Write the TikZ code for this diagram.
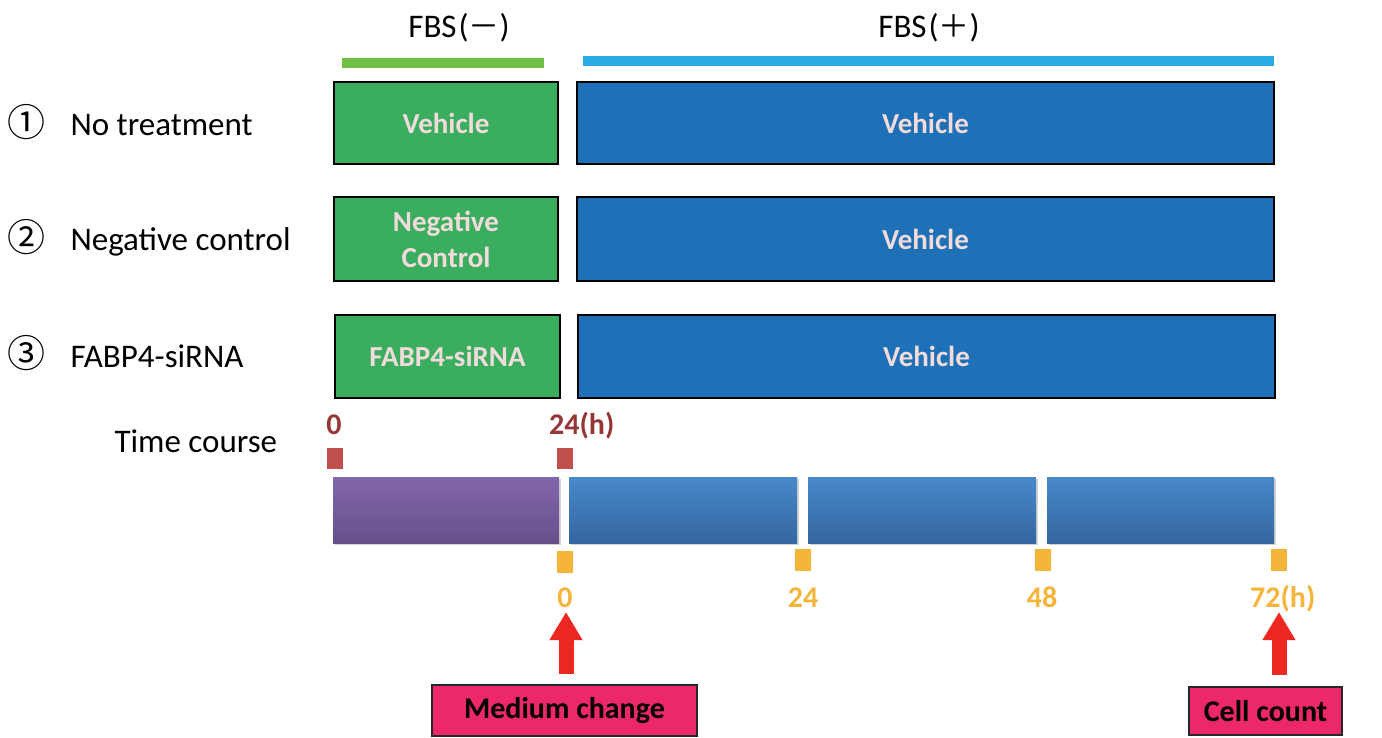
\documentclass[tikz,border=0pt]{standalone}
\usepackage{fontspec}
\setmainfont{Carlito}
\newfontfamily\cjk{Noto Sans CJK JP}
\usetikzlibrary{arrows.meta,shadows}
\definecolor{gbox}{RGB}{58,173,94}
\definecolor{bbox}{RGB}{30,112,183}
\definecolor{boxtxt}{RGB}{242,220,219}
\definecolor{gbar}{RGB}{112,190,68}
\definecolor{lbar}{RGB}{41,171,226}
\definecolor{browntxt}{RGB}{149,55,53}
\definecolor{brownsq}{RGB}{192,80,77}
\definecolor{ylw}{RGB}{245,180,58}
\definecolor{redarr}{RGB}{237,40,36}
\definecolor{pinkbox}{RGB}{236,40,105}
\definecolor{purtop}{RGB}{130,102,172}
\definecolor{purbot}{RGB}{102,80,138}
\definecolor{blutop}{RGB}{72,137,202}
\definecolor{blubot}{RGB}{52,102,160}
\newcommand{\cjksign}[1]{{\cjk\fontsize{31}{34}\selectfont #1}}
\begin{document}
\begin{tikzpicture}[x=1pt,y=-1pt,
  boxbase/.style={draw=black, line width=2pt, text=boxtxt, align=center, inner sep=0pt,
    font=\fontsize{29}{36}\selectfont\bfseries},
  greenbox/.style={boxbase, fill=gbox},
  bluebox/.style={boxbase, fill=bbox},
  lbl/.style={anchor=base west, font=\fontsize{33}{36}\selectfont},
  circ/.style={font=\cjk\fontsize{38}{40}\selectfont, inner sep=0pt},
  hdr/.style={anchor=base, font=\fontsize{33}{36}\selectfont, inner sep=0pt},
  tlpurple/.style={draw=none, top color=purtop, bottom color=purbot, inner sep=0pt,
    drop shadow={shadow xshift=1.5pt, shadow yshift=-2pt, opacity=0.35}},
  tlblue/.style={draw=none, top color=blutop, bottom color=blubot, inner sep=0pt,
    drop shadow={shadow xshift=1.5pt, shadow yshift=-2pt, opacity=0.35}},
  bsq/.style={fill=brownsq, minimum width=16pt, minimum height=21pt, inner sep=0pt},
  ysq/.style={fill=ylw, minimum width=16pt, minimum height=22pt, inner sep=0pt},
  btick/.style={text=browntxt, font=\fontsize{30}{32}\selectfont\bfseries, inner sep=0pt},
  ytick/.style={text=ylw, font=\fontsize{30}{32}\selectfont\bfseries, inner sep=0pt},
  pinkbx/.style={draw=black!85, line width=2pt, fill=pinkbox, inner sep=0pt,
    font=\fontsize{30}{32}\selectfont\bfseries},
  fatarrow/.style={draw=redarr, line width=15pt, -{Triangle[width=31pt,length=28pt]}}
]
\useasboundingbox (0,0) rectangle (1382,738);

% headers
\node[hdr] (hm) at (459,38) {FBS\kern2pt(\cjksign{－})};
\node[hdr] (hp) at (929,38) {FBS\kern2pt(\cjksign{＋})};
\fill[gbar] (342,58) rectangle (544,68);
\fill[lbar] (583,56) rectangle (1274,66);

% row labels
\node[circ] (c1) at (27,122) {①};
\node[lbl] (l1) at (67,136) {No treatment};
\node[circ] (c2) at (27,237) {②};
\node[lbl] (l2) at (67,251) {Negative control};
\node[circ] (c3) at (27,353) {③};
\node[lbl] (l3) at (67,367) {FABP4-siRNA};
\node[lbl] (tc) at (111,452) {Time course};

% rows
\node[greenbox, minimum width=224pt, minimum height=82pt] (g1) at (446,123) {Vehicle};
\node[bluebox, minimum width=697pt, minimum height=82pt] (b1) at (925.5,123) {Vehicle};
\node[greenbox, minimum width=224pt, minimum height=84pt] (g2) at (446,239) {Negative\\Control};
\node[bluebox, minimum width=697pt, minimum height=84pt] (b2) at (925.5,239) {Vehicle};
\node[greenbox, minimum width=225pt, minimum height=83pt] (g3) at (447.5,356.5) {FABP4-siRNA};
\node[bluebox, minimum width=697pt, minimum height=83pt] (b3) at (926.5,356.5) {Vehicle};

% time course top labels
\node[btick, anchor=base] (t0) at (334,434) {0};
\node[btick, anchor=base west] (t24) at (549,434) {24(h)};
\node[bsq] (s0) at (335,458.5) {};
\node[bsq] (s24) at (565,458.5) {};

% time bars
\node[tlpurple, minimum width=226pt, minimum height=66pt] (tl0) at (446,510) {};
\node[tlblue, minimum width=228pt, minimum height=66pt] (tl1) at (683,510) {};
\node[tlblue, minimum width=228pt, minimum height=66pt] (tl2) at (922,510) {};
\node[tlblue, minimum width=227pt, minimum height=66pt] (tl3) at (1160.5,510) {};

% yellow ticks
\node[ysq] (y0) at (565,562) {};
\node[ysq] (y24) at (803,560) {};
\node[ysq] (y48) at (1043,560) {};
\node[ysq] (y72) at (1279,560) {};
\node[ytick, anchor=base] (n0) at (565,607) {0};
\node[ytick, anchor=base] (n24) at (803,607) {24};
\node[ytick, anchor=base] (n48) at (1042,607) {48};
\node[ytick, anchor=base west] (n72) at (1250,607) {72(h)};

% bottom boxes
\node[pinkbx, minimum width=265pt, minimum height=51pt] (mc) at (564.5,710.5) {Medium change};
\node[pinkbx, minimum width=153pt, minimum height=48pt] (cc) at (1265.5,711) {Cell count};

% arrows
\coordinate (a1b) at (566,674);
\coordinate (a1t) at (566,612);
\coordinate (a2b) at (1279,675);
\coordinate (a2t) at (1279,612);
\draw[fatarrow] (a1b) -- (a1t);
\draw[fatarrow] (a2b) -- (a2t);
\end{tikzpicture}
\end{document}
